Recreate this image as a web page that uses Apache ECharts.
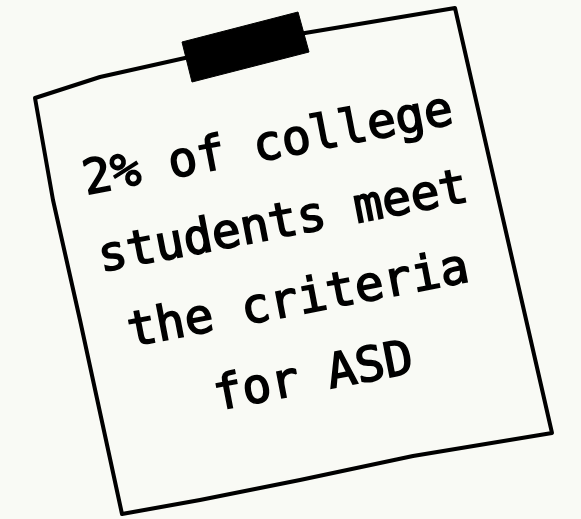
<!DOCTYPE html>
<html>
<head>
<meta charset="utf-8">
<script src="https://cdn.jsdelivr.net/npm/echarts@6/dist/echarts.min.js"></script>
<style>
  html, body { margin: 0; padding: 0; background: #f9faf5; }
  #chart { width: 581px; height: 519px; }
</style>
</head>
<body>
<div id="chart"></div>
<script>
// ---- content ----
var textLines = ['2% of college', 'students meet', 'the criteria', 'for ASD'];

// ---- layout / style ----
var BG = '#f9faf5';
var INK = '#000000';
var angleDeg = 10.9;
var rot = angleDeg * Math.PI / 180;
var blockCenter = [291, 263];
var lineStep = [15.2, 77.4];

// hand-drawn note outline (corners with slight wobble)
var noteOutline = [
  [35, 98], [100, 77], [185, 58], [305, 33], [455, 8],
  [498, 197], [552, 433],
  [413, 456], [300, 480], [200, 500], [122, 514],
  [80, 320], [53, 200]
];
var tape = [[182, 42], [298, 12], [309, 52], [192, 82]];

var chart = echarts.init(document.getElementById('chart'), null, { width: 581, height: 519 });

var graphics = [
  {
    type: 'polygon',
    shape: { points: noteOutline },
    style: { fill: BG, stroke: INK, lineWidth: 4, lineJoin: 'round' },
    z: 1
  },
  {
    type: 'polygon',
    shape: { points: tape },
    style: { fill: INK, stroke: INK, lineWidth: 1 },
    z: 3
  }
];

textLines.forEach(function (line, i) {
  var k = i - (textLines.length - 1) / 2;
  graphics.push({
    type: 'text',
    x: blockCenter[0] + k * lineStep[0],
    y: blockCenter[1] + k * lineStep[1],
    rotation: rot,
    style: {
      text: line,
      font: 'normal 48px "DejaVu Sans Mono"',
      fill: INK,
      stroke: INK,
      lineWidth: 1.6,
      lineJoin: 'round',
      align: 'center',
      verticalAlign: 'middle'
    },
    z: 2
  });
});

chart.setOption({
  backgroundColor: BG,
  animation: false,
  graphic: { elements: graphics }
});
</script>
</body>
</html>
